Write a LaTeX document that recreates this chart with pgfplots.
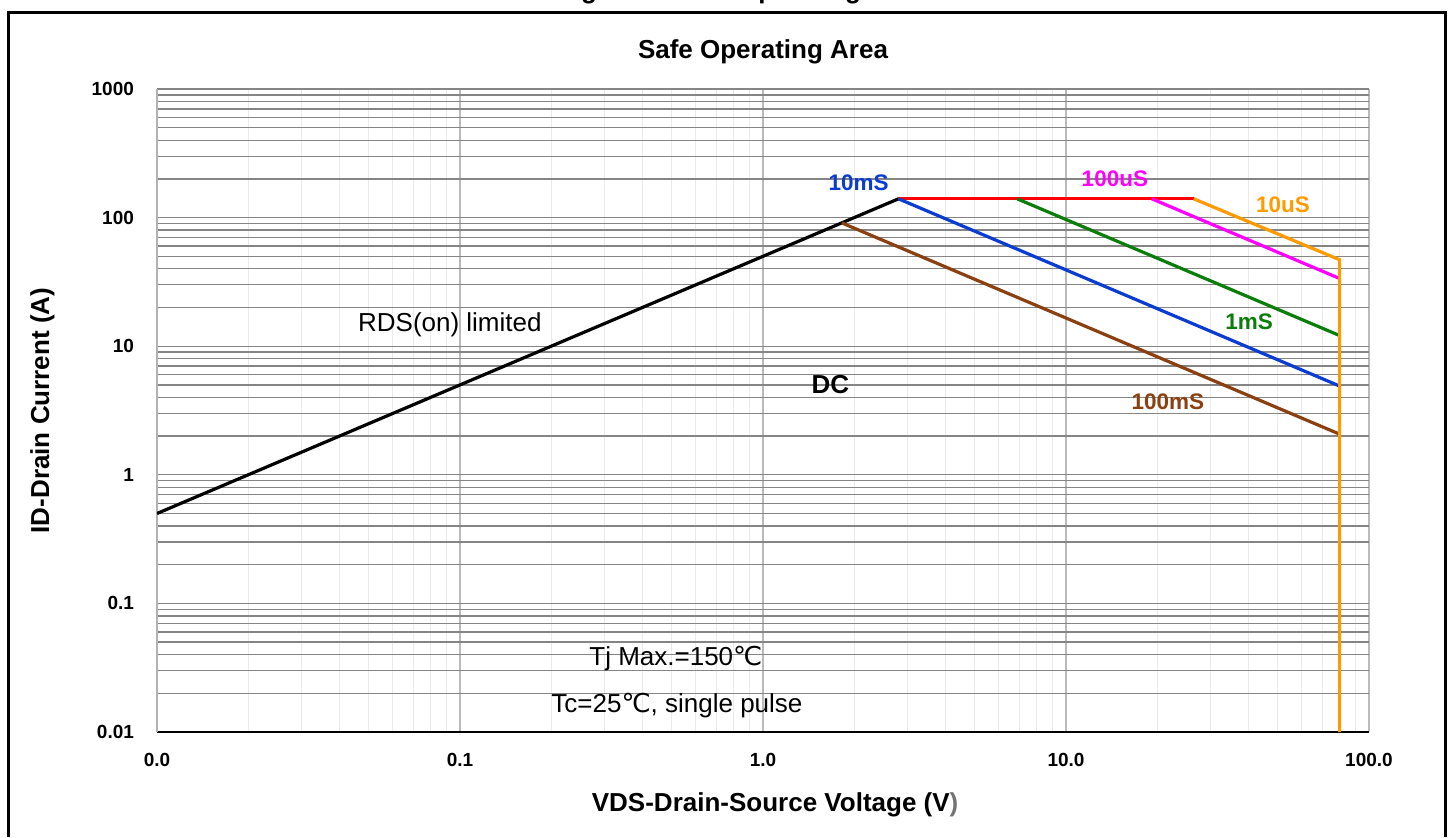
\documentclass[border=0pt]{standalone}
\usepackage{fontspec}
\setmainfont{Liberation Sans}
\newfontfamily\dejavu{DejaVu Sans}
\usepackage{pgfplots}
\pgfplotsset{compat=1.18}

\definecolor{cblue}{HTML}{0A3CD2}
\definecolor{cgreen}{HTML}{0B7D0B}
\definecolor{cmag}{HTML}{FF00FF}
\definecolor{corange}{HTML}{FF9A00}
\definecolor{cbrown}{HTML}{8A4010}
\definecolor{cred}{HTML}{FF0000}

\newcommand{\degC}{{\dejavu ℃}}

\begin{document}
\begin{tikzpicture}
\path[use as bounding box] (0,0) rectangle (726.5pt,418.5pt);
% frame of the figure, cut at the bottom
\draw[line width=1.5pt] (4pt,0) -- (4pt,412.3pt) -- (722.5pt,412.3pt) -- (722.5pt,0);
\node[font=\bfseries\fontsize{13}{15}\selectfont, anchor=base] at (371pt,419.3pt) {Figure 9. Safe Operating Area};
\node[font=\bfseries\fontsize{13}{15}\selectfont] at (381.5pt,392.5pt) {Safe Operating Area};

\begin{axis}[
  at={(78.5pt,52.5pt)}, anchor=south west,
  scale only axis, width=606pt, height=321.5pt,
  xmode=log, ymode=log,
  xmin=0.01, xmax=100, ymin=0.01, ymax=1000,
  xtick={0.01,0.1,1,10,100},
  xticklabels={0.0,0.1,1.0,10.0,100.0},
  ytick={0.01,0.1,1,10,100,1000},
  yticklabels={0.01,0.1,1,10,100,1000},
  minor xtick={0.02,0.03,0.04,0.05,0.06,0.07,0.08,0.09,
               0.2,0.3,0.4,0.5,0.6,0.7,0.8,0.9,
               2,3,4,5,6,7,8,9,20,30,40,50,60,70,80,90},
  minor ytick={0.02,0.03,0.04,0.05,0.06,0.07,0.08,0.09,
               0.2,0.3,0.4,0.5,0.6,0.7,0.8,0.9,
               2,3,4,5,6,7,8,9,20,30,40,50,60,70,80,90,
               200,300,400,500,600,700,800,900},
  xmajorgrids, xminorgrids, ymajorgrids, yminorgrids,
  major x grid style={draw=black!27, line width=0.8pt},
  minor x grid style={draw=black!8, line width=0.5pt},
  major y grid style={draw=black!48, line width=0.65pt},
  minor y grid style={draw=black!48, line width=0.65pt},
  axis x line=bottom, axis y line=left,
  x axis line style={draw=black, line width=1.1pt, -},
  y axis line style={draw=black!30, line width=0.8pt, -},
  major tick length=0pt, minor tick length=0pt,
  /pgf/number format/assume math mode=true,
  ticklabel style={font=\bfseries\fontsize{9.5}{11}\selectfont},
  xticklabel style={yshift=-7pt},
  yticklabel style={xshift=-8pt},
  xlabel={VDS-Drain-Source Voltage (V\textcolor{black!55}{)}},
  ylabel={ID-Drain Current (A)},
  xlabel style={at={(axis description cs:0.51,-0.1135)}, anchor=center,
                font=\bfseries\fontsize{13}{15}\selectfont},
  ylabel style={at={(axis description cs:-0.0945,0.5)}, anchor=center,
                font=\bfseries\fontsize{13}{15}\selectfont},
  clip=true,
]
% RDS(on) limit
\addplot[black, line width=1.6pt] coordinates {(0.01,0.5) (2.8,140)};
% DC
\addplot[cbrown, line width=1.6pt] coordinates {(1.82,91) (80,2.07)};
% current limit
\addplot[cred, line width=1.6pt] coordinates {(2.8,140) (26.4,140)};
% 10 ms
\addplot[cblue, line width=1.6pt] coordinates {(2.8,140) (80,4.9)};
% 1 ms
\addplot[cgreen, line width=1.6pt] coordinates {(6.9,140) (80,12.1)};
% 100 us
\addplot[cmag, line width=1.6pt] coordinates {(19.2,140) (80,33.6)};
% 10 us and VDS max
\addplot[corange, line width=1.6pt] coordinates {(26.4,140) (80,47) (80,0.01)};

\node[font=\bfseries\fontsize{11.25}{13}\selectfont, text=cblue] at (axis cs:2.07,186) {10mS};
\node[font=\bfseries\fontsize{11.25}{13}\selectfont, text=cmag] at (axis cs:14.5,200) {100uS};
\node[font=\bfseries\fontsize{11.25}{13}\selectfont, text=corange] at (axis cs:52,125) {10uS};
\node[font=\bfseries\fontsize{11.25}{13}\selectfont, text=cgreen] at (axis cs:40.2,15.4) {1mS};
\node[font=\bfseries\fontsize{11.25}{13}\selectfont, text=cbrown] at (axis cs:21.7,3.68) {100mS};
\node[font=\bfseries\fontsize{13}{15}\selectfont] at (axis cs:1.67,4.99) {DC};
\node[font=\fontsize{13}{15}\selectfont] at (axis cs:0.0926,14.6) {RDS(on) limited};
\node[font=\fontsize{13}{15}\selectfont] at (axis cs:0.516,0.037) {Tj Max.=150\degC};
\node[font=\fontsize{13}{15}\selectfont] at (axis cs:0.52,0.0162) {Tc=25\degC, single pulse};
\end{axis}
\end{tikzpicture}
\end{document}
